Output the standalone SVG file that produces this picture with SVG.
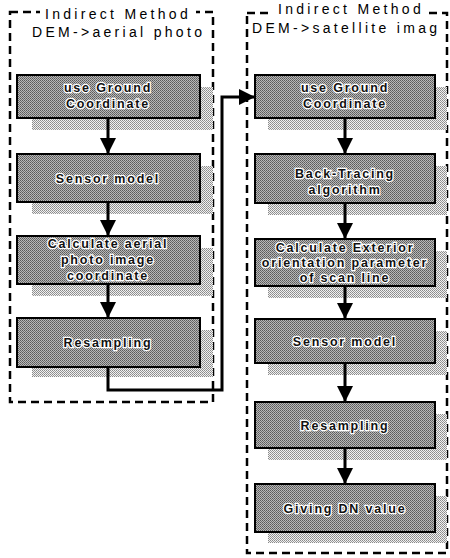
<svg xmlns="http://www.w3.org/2000/svg" width="450" height="558" viewBox="0 0 450 558">
<defs>
<marker id="ah" markerUnits="userSpaceOnUse" markerWidth="18" markerHeight="18" refX="16" refY="8" orient="auto">
<path d="M0,0 L16,8 L0,16 Z" fill="#000"/>
</marker>
<pattern id="tex" width="2" height="2" patternUnits="userSpaceOnUse">
<rect width="2" height="2" fill="#b8b8b8"/>
<rect width="1" height="1" fill="#5a5a5a"/>
<rect x="1" y="1" width="1" height="1" fill="#6e6e6e"/>
</pattern>
<pattern id="shd" width="2" height="2" patternUnits="userSpaceOnUse">
<rect width="2" height="2" fill="#f0f0f0"/>
<rect width="1" height="1" fill="#8a8a8a"/>
<rect x="1" y="1" width="1" height="1" fill="#9a9a9a"/>
</pattern>
</defs>
<style>
.cont{fill:none;stroke:#000;stroke-width:2.5;stroke-dasharray:8 5}
.ttl{font-family:"Liberation Sans",Arial,sans-serif;font-size:14px;letter-spacing:3.3px;fill:#000}
.sh{fill:url(#shd)}
.bx{fill:url(#tex);stroke:#000;stroke-width:2}
.lb{font-family:"Liberation Sans",Arial,sans-serif;font-size:12.5px;font-weight:bold;letter-spacing:1.8px;fill:#111;stroke:#fff;stroke-width:2.5px;paint-order:stroke;text-anchor:middle}
.cn{fill:none;stroke:#000;stroke-width:3}
</style>
<rect width="450" height="558" fill="#fff"/>

<g id="left-container">
<rect class="cont" x="10" y="12" width="203" height="390"/>
<rect x="40" y="5" width="156" height="17" fill="#fff"/>
<text class="ttl" x="45" y="19">Indirect Method</text>
<text class="ttl" x="32" y="37">DEM-&gt;aerial photo</text>
</g>
<g id="right-container">
<rect class="cont" x="247" y="13" width="200" height="540"/>
<rect x="272" y="3" width="157" height="16" fill="#fff"/>
<text class="ttl" x="278" y="14">Indirect Method</text>
<text class="ttl" x="252" y="33">DEM-&gt;satellite imag</text>
</g>

<g id="L1"><rect class="sh" x="32" y="87" width="181" height="43"/><rect class="bx" x="17" y="75" width="183" height="43"/>
<text class="lb" x="108" y="92">use Ground</text><text class="lb" x="108" y="108">Coordinate</text></g>
<g id="L2"><rect class="sh" x="32" y="166" width="181" height="48"/><rect class="bx" x="17" y="154" width="183" height="48"/>
<text class="lb" x="108" y="183">Sensor model</text></g>
<g id="L3"><rect class="sh" x="32" y="248" width="181" height="48"/><rect class="bx" x="17" y="236" width="183" height="48"/>
<text class="lb" x="108" y="248">Calculate aerial</text><text class="lb" x="108" y="264">photo image</text><text class="lb" x="108" y="280">coordinate</text></g>
<g id="L4"><rect class="sh" x="32" y="330" width="181" height="47"/><rect class="bx" x="17" y="318" width="183" height="49"/>
<text class="lb" x="108" y="347">Resampling</text></g>

<g id="R1"><rect class="sh" x="268" y="87" width="179" height="43"/><rect class="bx" x="255" y="75" width="180" height="43"/>
<text class="lb" x="345" y="92">use Ground</text><text class="lb" x="345" y="108">Coordinate</text></g>
<g id="R2"><rect class="sh" x="268" y="166" width="179" height="49"/><rect class="bx" x="255" y="154" width="180" height="49"/>
<text class="lb" x="345" y="178">Back-Tracing</text><text class="lb" x="345" y="194">algorithm</text></g>
<g id="R3"><rect class="sh" x="268" y="251" width="179" height="47"/><rect class="bx" x="255" y="239" width="180" height="47"/>
<text class="lb" x="345" y="252">Calculate Exterior</text><text class="lb" x="345" y="267">orientation parameter</text><text class="lb" x="345" y="282">of scan line</text></g>
<g id="R4"><rect class="sh" x="268" y="331" width="179" height="44"/><rect class="bx" x="255" y="319" width="180" height="44"/>
<text class="lb" x="345" y="346">Sensor model</text></g>
<g id="R5"><rect class="sh" x="268" y="414" width="179" height="46"/><rect class="bx" x="255" y="402" width="180" height="46"/>
<text class="lb" x="345" y="430">Resampling</text></g>
<g id="R6"><rect class="sh" x="268" y="496" width="179" height="47"/><rect class="bx" x="255" y="484" width="180" height="48"/>
<text class="lb" x="345" y="513">Giving DN value</text></g>

<g id="connectors">
<path class="cn" d="M108,118 V154" marker-end="url(#ah)"/>
<path class="cn" d="M108,202 V236" marker-end="url(#ah)"/>
<path class="cn" d="M108,284 V318" marker-end="url(#ah)"/>
<path class="cn" d="M108,367 V390 H222 V97 H255" marker-end="url(#ah)"/>
<path class="cn" d="M345,118 V154" marker-end="url(#ah)"/>
<path class="cn" d="M345,203 V239" marker-end="url(#ah)"/>
<path class="cn" d="M345,286 V319" marker-end="url(#ah)"/>
<path class="cn" d="M345,363 V402" marker-end="url(#ah)"/>
<path class="cn" d="M345,448 V484" marker-end="url(#ah)"/>
</g>
</svg>
